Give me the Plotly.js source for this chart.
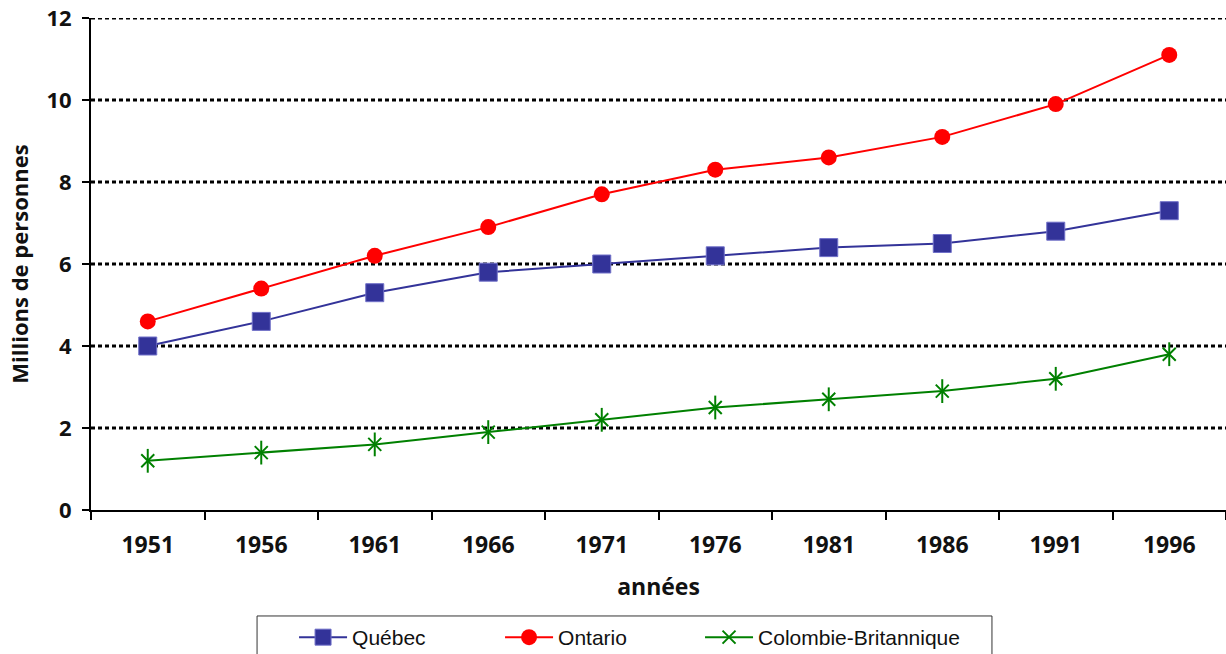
<!DOCTYPE html>
<html>
<head>
<meta charset="utf-8">
<script src="https://cdn.plot.ly/plotly-3.0.1.min.js"></script>
<style>html,body{margin:0;padding:0;background:#fff;}#chart{width:1226px;height:654px;}</style>
</head>
<body>
<div id="chart"></div>
<script>
const years = ["1951","1956","1961","1966","1971","1976","1981","1986","1991","1996"];
const quebec = [4.0, 4.6, 5.3, 5.8, 6.0, 6.2, 6.4, 6.5, 6.8, 7.3];
const ontario = [4.6, 5.4, 6.2, 6.9, 7.7, 8.3, 8.6, 9.1, 9.9, 11.1];
const colombie = [1.2, 1.4, 1.6, 1.9, 2.2, 2.5, 2.7, 2.9, 3.2, 3.8];
const yTicks = [0, 2, 4, 6, 8, 10, 12];

const boldFont = {family: "Open Sans, Noto Sans, sans-serif", size: 22, color: "#111", weight: "bold"};
const xFont = {family: "Open Sans, Noto Sans, sans-serif", size: 23, color: "#111", weight: "bold"};
const legFont = {family: "Liberation Sans, Arial, sans-serif", size: 21, color: "#111"};

const traces = [
  {x: years, y: quebec, name: "Québec", type: "scatter", mode: "lines+markers", legend: "legend",
   line: {color: "#333399", width: 2},
   marker: {symbol: "square", size: 18, color: "#333399", line: {color: "#7070c8", width: 1}}},
  {x: years, y: ontario, name: "Ontario", type: "scatter", mode: "lines+markers", legend: "legend2",
   line: {color: "#ff0000", width: 2},
   marker: {symbol: "circle", size: 16, color: "#ff0000", line: {width: 0}}},
  {x: years, y: colombie, name: "Colombie-Britannique", type: "scatter", mode: "lines+markers",
   legend: "legend3", legendgroup: "cb",
   line: {color: "#008000", width: 2},
   marker: {symbol: "x-thin-open", size: 13, color: "#008000", line: {color: "#008000", width: 2}}},
  {x: years, y: colombie, name: "Colombie-Britannique", type: "scatter", mode: "markers",
   legend: "legend3", legendgroup: "cb", showlegend: false, hoverinfo: "skip",
   marker: {symbol: "line-ns-open", size: 17, color: "#008000", line: {color: "#008000", width: 2}}}
];

const gridShapes = yTicks.filter(v => v > 0).map(v => ({
  type: "line", xref: "paper", yref: "y", x0: 0, x1: 1, y0: v, y1: v,
  layer: "below", line: {color: "#000", width: 3, dash: "4px,3px"}
}));

const legendBox = {
  type: "rect", xref: "paper", yref: "paper",
  x0: 0.1463, x1: 0.7938, y0: -0.32, y1: -0.2154,
  line: {color: "#333", width: 1}, fillcolor: "rgba(0,0,0,0)", layer: "above"
};

function leg(x) {
  return {
    orientation: "h", x: x, xanchor: "left", y: -0.2175, yanchor: "top",
    bgcolor: "rgba(0,0,0,0)", borderwidth: 0, font: legFont, itemwidth: 48,
    itemclick: false, itemdoubleclick: false
  };
}

const layout = {
  width: 1226, height: 654,
  margin: {l: 91, r: 0, t: 18, b: 144, autoexpand: false},
  paper_bgcolor: "#fff", plot_bgcolor: "#fff",
  showlegend: true,
  xaxis: {
    type: "category", categoryorder: "array", categoryarray: years,
    range: [-0.5, 9.5], automargin: false,
    showline: true, linecolor: "#000", linewidth: 2,
    ticks: "outside", tickson: "boundaries", ticklen: 8, tickwidth: 2, tickcolor: "#000",
    showgrid: false, zeroline: false,
    tickfont: xFont, ticklabelstandoff: 13,
    title: {text: "années", font: xFont, standoff: 20}
  },
  yaxis: {
    range: [0, 12], tickvals: yTicks, ticktext: yTicks.map(String), automargin: false,
    showline: true, linecolor: "#000", linewidth: 2,
    ticks: "outside", ticklen: 7, tickwidth: 2, tickcolor: "#000",
    showgrid: false, zeroline: false,
    tickfont: boldFont, ticklabelstandoff: 6,
    title: {text: "Millions de personnes", font: boldFont, standoff: 12}
  },
  shapes: gridShapes.concat([legendBox]),
  legend: leg(0.1789),
  legend2: leg(0.3604),
  legend3: leg(0.5366)
};

Plotly.newPlot("chart", traces, layout, {displayModeBar: false, staticPlot: true});
</script>
</body>
</html>
